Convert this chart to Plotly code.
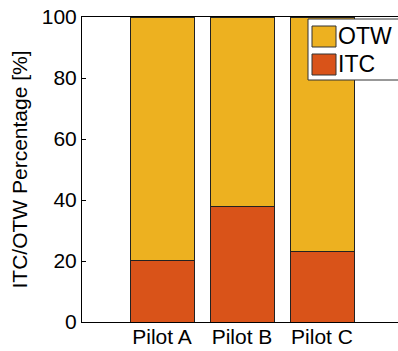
import plotly.graph_objects as go

categories = ["Pilot A", "Pilot B", "Pilot C"]
positions = [1, 2, 3]
itc_values = [20.3, 38.0, 23.0]
otw_values = [100 - v for v in itc_values]
y_ticks = [0, 20, 40, 60, 80, 100]
series_names = ["ITC", "OTW"]
colors = {"ITC": "#D95319", "OTW": "#EDB120"}

W, H = 398, 351
L, T, B = 82, 17, 29
PW = W - L
PH = H - T - B

fig = go.Figure()
fig.add_trace(go.Bar(x=positions, y=itc_values, name="ITC", width=0.8,
                     marker=dict(color=colors["ITC"], line=dict(color="#222", width=1))))
fig.add_trace(go.Bar(x=positions, y=otw_values, name="OTW", width=0.8,
                     marker=dict(color=colors["OTW"], line=dict(color="#222", width=1))))

font = "Liberation Sans, Arial, Helvetica, sans-serif"

def px_x(p):
    return (p - L) / PW

def px_y(p):
    return (T + PH - p) / PH

shapes = [
    dict(type="rect", xref="paper", yref="paper", x0=px_x(308), x1=px_x(402),
         y0=px_y(80), y1=px_y(19), line=dict(color="#333", width=1), fillcolor="white", layer="above"),
]
annotations = []
legend_items = [("OTW", 26, 47), ("ITC", 54, 75)]
for name, y0, y1 in legend_items:
    shapes.append(dict(type="rect", xref="paper", yref="paper", x0=px_x(312), x1=px_x(336),
                       y0=px_y(y1), y1=px_y(y0), line=dict(color="#333", width=1),
                       fillcolor=colors[name], layer="above"))
    annotations.append(dict(xref="paper", yref="paper", x=px_x(336), y=px_y((y0 + y1) / 2),
                            text=name, showarrow=False, xanchor="left", yanchor="middle",
                            font=dict(size=23, color="black", family=font)))

fig.update_layout(
    width=W, height=H,
    margin=dict(l=L, r=0, t=T, b=B, pad=0),
    barmode="stack",
    showlegend=False,
    plot_bgcolor="white", paper_bgcolor="white",
    font=dict(family=font, size=20, color="black"),
    shapes=shapes,
    annotations=annotations,
    xaxis=dict(range=[0, PW / 80], tickvals=positions, ticktext=categories,
               showline=True, linecolor="black", linewidth=1, mirror=True,
               ticks="", showgrid=False, zeroline=False, automargin=False,
               ticklabelstandoff=-4, tickfont=dict(size=21)),
    yaxis=dict(range=[0, 100], tickvals=y_ticks, showline=True, linecolor="black",
               linewidth=1, ticks="inside", ticklen=4, tickcolor="black",
               showgrid=False, zeroline=False, tickfont=dict(size=21), automargin=False,
               title=dict(text="ITC/OTW Percentage [%]", font=dict(size=21), standoff=8)),
)

fig.write_html("out.html")
